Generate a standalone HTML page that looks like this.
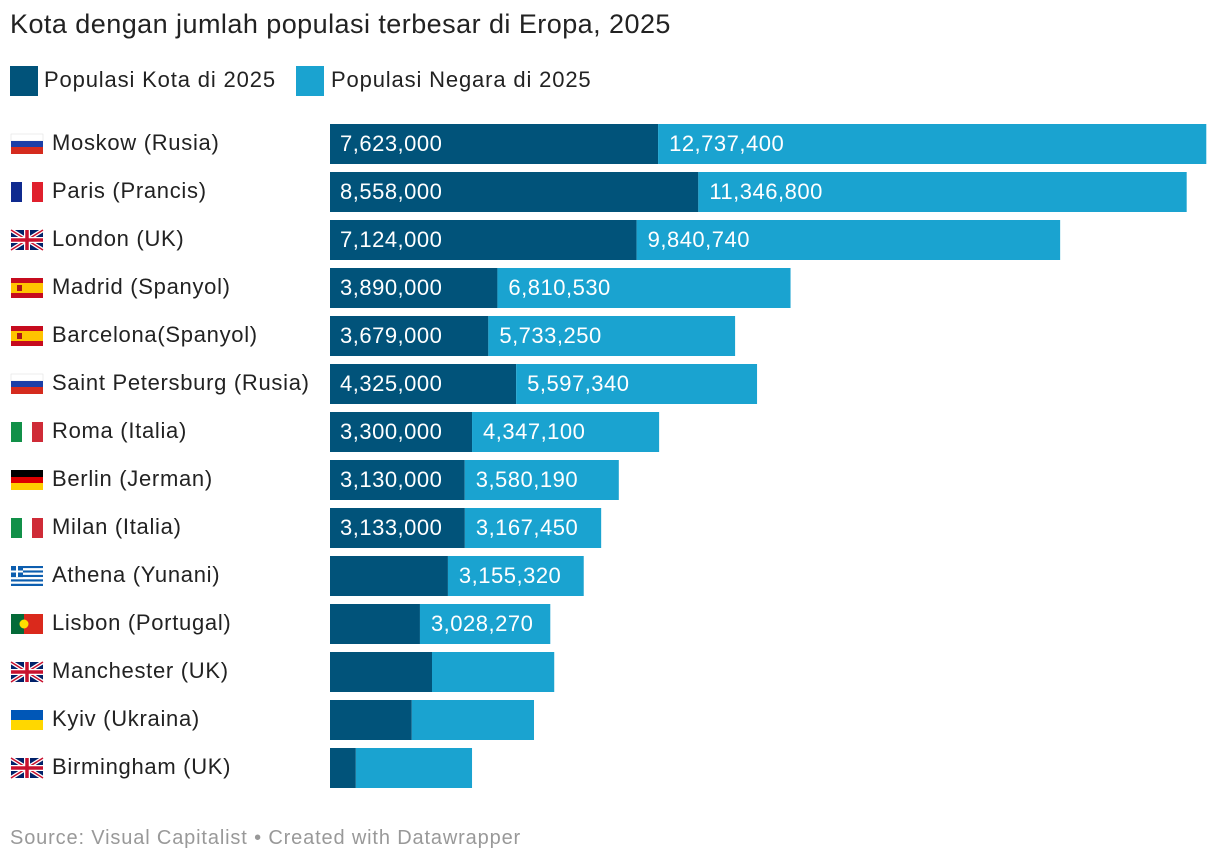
<!DOCTYPE html>
<html><head><meta charset="utf-8"><style>
body{margin:0;background:#fff;font-family:"Liberation Sans",sans-serif;}
#wrap{position:relative;width:1220px;height:864px;overflow:hidden}
.t{position:absolute;white-space:nowrap}
</style></head><body>
<div id="wrap">
<div class="t" style="left:10px;top:9px;font-size:27px;letter-spacing:0.45px;color:#222">Kota dengan jumlah populasi terbesar di Eropa, 2025</div>
<div class="t" style="left:10px;top:66px;width:28px;height:30px;background:#01537a"></div>
<div class="t" style="left:44px;top:67px;font-size:22px;letter-spacing:0.85px;color:#222">Populasi Kota di 2025</div>
<div class="t" style="left:296px;top:66px;width:28px;height:30px;background:#1aa3d0"></div>
<div class="t" style="left:331px;top:67px;font-size:22px;letter-spacing:0.85px;color:#222">Populasi Negara di 2025</div>
<svg id="svg" width="1220" height="864" style="position:absolute;left:0;top:0"></svg>
<div class="t" style="left:10px;top:827px;font-size:20px;letter-spacing:0.85px;color:#999">Source: Visual Capitalist • Created with Datawrapper</div>
</div>
<script>
const cities=["Moskow (Rusia)","Paris (Prancis)","London (UK)","Madrid (Spanyol)","Barcelona(Spanyol)","Saint Petersburg (Rusia)","Roma (Italia)","Berlin (Jerman)","Milan (Italia)","Athena (Yunani)","Lisbon (Portugal)","Manchester (UK)","Kyiv (Ukraina)","Birmingham (UK)"];
const flags=["ru","fr","uk","es","es","ru","it","de","it","gr","pt","uk","ua","uk"];
const cityPop=[7623000,8558000,7124000,3890000,3679000,4325000,3300000,3130000,3133000,2740000,2090000,2370000,1900000,600000];
const countryPop=[12737400,11346800,9840740,6810530,5733250,5597340,4347100,3580190,3167450,3155320,3028270,2840000,2840000,2700000];
const showCity=[1,1,1,1,1,1,1,1,1,0,0,0,0,0];
const showCountry=[1,1,1,1,1,1,1,1,1,1,1,0,0,0];
const X0=330,SCALE=878/20400000,Y0=124,STEP=48,BH=40;
const xs=v=>v*SCALE;
const svg=document.getElementById('svg');const NS="http://www.w3.org/2000/svg";
function mk(tag,attrs,parent){const e=document.createElementNS(NS,tag);for(const k in attrs)e.setAttribute(k,attrs[k]);(parent||svg).appendChild(e);return e;}
const fmt=n=>n.toLocaleString('en-US');
function flag(code,x,y){const g=mk('g',{transform:`translate(${x},${y})`});


const W=32,H=20;
if(code=='ru'){mk('rect',{width:W,height:7,fill:'#fff',stroke:'#ddd','stroke-width':.5},g);mk('rect',{y:7,width:W,height:6,fill:'#1c3fa8'},g);mk('rect',{y:13,width:W,height:7,fill:'#d52b1e'},g);}
else if(code=='fr'){mk('rect',{width:11,height:H,fill:'#0f2a8f'},g);mk('rect',{x:11,width:10,height:H,fill:'#fff'},g);mk('rect',{x:21,width:11,height:H,fill:'#e0202d'},g);}
else if(code=='it'){mk('rect',{width:11,height:H,fill:'#119048'},g);mk('rect',{x:11,width:10,height:H,fill:'#fff'},g);mk('rect',{x:21,width:11,height:H,fill:'#cf2b37'},g);}
else if(code=='de'){mk('rect',{width:W,height:7,fill:'#000'},g);mk('rect',{y:7,width:W,height:6,fill:'#dd0000'},g);mk('rect',{y:13,width:W,height:7,fill:'#ffce00'},g);}
else if(code=='es'){mk('rect',{width:W,height:H,fill:'#c60b1e'},g);mk('rect',{y:5,width:W,height:10,fill:'#ffc400'},g);mk('rect',{x:6,y:7,width:5,height:6,fill:'#ad1519'},g);}
else if(code=='ua'){mk('rect',{width:W,height:10,fill:'#0057b7'},g);mk('rect',{y:10,width:W,height:10,fill:'#ffd700'},g);}
else if(code=='pt'){mk('rect',{width:13,height:H,fill:'#046a38'},g);mk('rect',{x:13,width:19,height:H,fill:'#da291c'},g);mk('circle',{cx:13,cy:10,r:4.5,fill:'#ffe000'},g);}
else if(code=='gr'){for(let i=0;i<9;i++)mk('rect',{y:i*H/9,width:W,height:H/9,fill:i%2?'#fff':'#0d5eaf'},g);mk('rect',{width:12,height:H*5/9,fill:'#0d5eaf'},g);mk('rect',{x:5,width:2,height:H*5/9,fill:'#fff'},g);mk('rect',{y:4.5,width:12,height:2,fill:'#fff'},g);}
else if(code=='uk'){mk('rect',{width:W,height:H,fill:'#012169'},g);mk('path',{d:`M0 0L${W} ${H}M${W} 0L0 ${H}`,stroke:'#fff','stroke-width':4},g);mk('path',{d:`M0 0L${W} ${H}M${W} 0L0 ${H}`,stroke:'#c8102e','stroke-width':1.5},g);mk('path',{d:`M${W/2} 0V${H}M0 ${H/2}H${W}`,stroke:'#fff','stroke-width':6},g);mk('path',{d:`M${W/2} 0V${H}M0 ${H/2}H${W}`,stroke:'#c8102e','stroke-width':3.5},g);}
}
cities.forEach((c,i)=>{
const y=Y0+i*STEP, cy=y+BH/2;
flag(flags[i],11,cy-10);
const lab=mk('text',{x:52,y:cy+6,'font-size':22,'letter-spacing':0.7,fill:'#222','font-family':'Liberation Sans, sans-serif'});lab.textContent=c;


const w1=xs(cityPop[i]),w2=xs(countryPop[i]);
const b1=mk('rect',{x:X0,y:y,width:w1,height:BH,fill:'#01537a'});


const b2=mk('rect',{x:X0+w1,y:y,width:w2,height:BH,fill:'#1aa3d0'});


if(showCity[i]){const t=mk('text',{x:X0+10,y:cy+7,'font-size':22,'letter-spacing':0.5,fill:'#fff','font-family':'Liberation Sans, sans-serif'});t.textContent=fmt(cityPop[i]);

}
if(showCountry[i]){const t=mk('text',{x:X0+w1+11,y:cy+7,'font-size':22,'letter-spacing':0.5,fill:'#fff','font-family':'Liberation Sans, sans-serif'});t.textContent=fmt(countryPop[i]);

}
});
</script>
</body></html>
